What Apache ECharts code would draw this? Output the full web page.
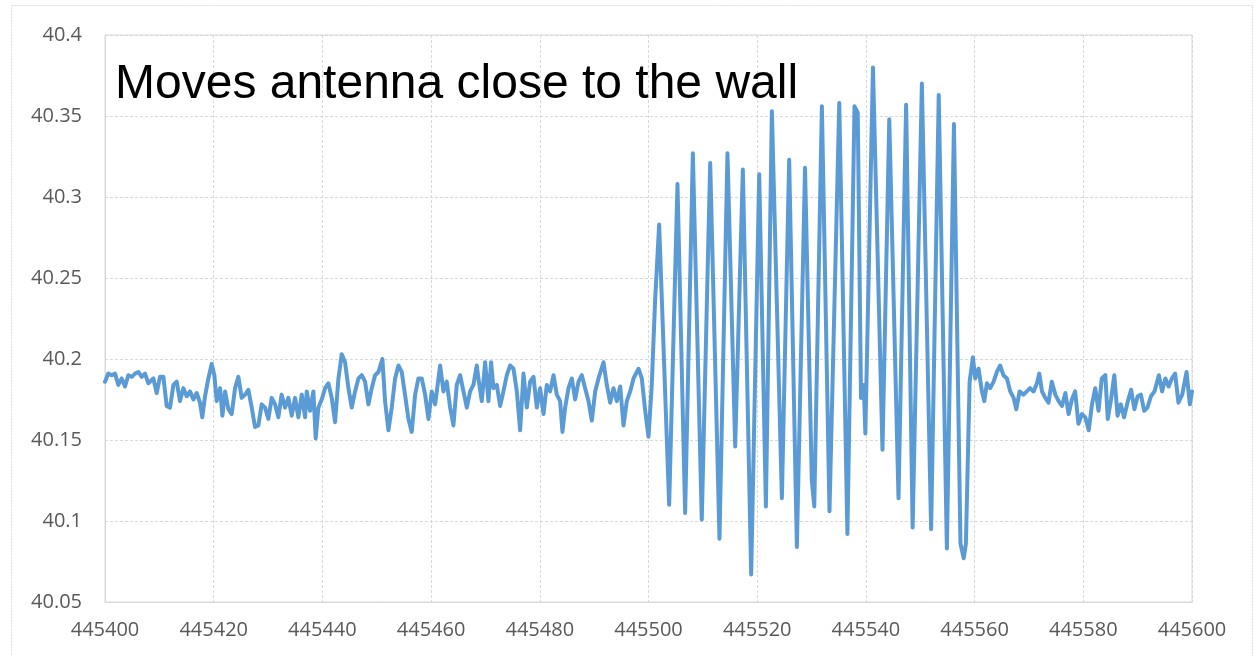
<!DOCTYPE html>
<html>
<head>
<meta charset="utf-8">
<script src="https://cdn.jsdelivr.net/npm/echarts@6/dist/echarts.min.js"></script>
<style>
html,body{margin:0;padding:0;background:#fff;}
#chart{width:1255px;height:656px;}
</style>
</head>
<body>
<div id="chart"></div>
<script>
// x values are offsets from X0
var X0 = 445400;
var xTicks = [445400,445420,445440,445460,445480,445500,445520,445540,445560,445580,445600];
var yTicks = [40.05,40.1,40.15,40.2,40.25,40.3,40.35,40.4];

// quiet part before the antenna is moved
var beforeX = [0.0,0.61,1.23,1.84,2.45,3.07,3.68,4.29,4.91,5.52,6.14,6.75,7.36,7.98,8.9,9.51,10.12,10.74,11.35,11.96,12.58,13.19,13.8,14.42,15.03,15.64,16.26,16.87,17.48,17.9,18.4,19.02,19.63,20.12,20.55,21.17,21.6,22.09,22.7,23.31,23.93,24.54,25.15,25.77,26.38,27.0,27.6,28.22,28.83,29.45,30.06,30.67,31.29,31.9,32.5,33.13,33.74,34.36,34.97,35.58,36.2,36.81,37.12,37.73,38.34,38.77,39.26,39.88,40.49,41.1,41.72,42.33,42.95,43.56,44.17,44.79,45.4,46.01,46.63,47.24,47.85,48.47,49.08,49.69,50.31,51.04,51.53,52.15,52.76,53.37,53.99,54.6,55.2,55.83,56.44,57.06,57.67,58.28,58.9,59.51,60.12,60.74,61.66,62.27,62.88,63.5,64.11,64.72,65.34,65.95,66.57,67.18,67.79,68.4,68.71,69.33,69.94,70.55,71.04,71.47,72.09,72.7,73.31,73.93,74.54,75.16,75.77,76.38,77.0,77.61,78.22,78.84,79.45,80.06,80.68,81.29,81.9,82.52,83.13,83.74,84.17,84.66,85.28,85.89,86.5,87.12,87.73,88.34,88.96,89.57,90.19,90.8,91.72,92.33,92.95,93.56,94.17,94.79,95.4,96.01,96.63,97.24,98.16,98.77,99.39,100.0,100.6];
var beforeY = [40.186,40.191,40.190,40.191,40.184,40.188,40.183,40.190,40.189,40.191,40.192,40.189,40.191,40.185,40.188,40.179,40.189,40.189,40.171,40.170,40.184,40.186,40.174,40.182,40.177,40.180,40.175,40.179,40.173,40.164,40.177,40.188,40.197,40.190,40.174,40.182,40.165,40.180,40.169,40.166,40.182,40.189,40.176,40.178,40.181,40.170,40.158,40.159,40.172,40.170,40.163,40.176,40.172,40.164,40.178,40.170,40.176,40.165,40.176,40.164,40.178,40.164,40.180,40.168,40.180,40.151,40.170,40.175,40.182,40.185,40.176,40.161,40.188,40.203,40.198,40.182,40.170,40.180,40.188,40.190,40.186,40.172,40.182,40.190,40.192,40.200,40.174,40.156,40.170,40.188,40.196,40.192,40.178,40.163,40.155,40.178,40.188,40.188,40.178,40.163,40.180,40.172,40.196,40.180,40.186,40.170,40.159,40.184,40.190,40.180,40.170,40.180,40.184,40.196,40.188,40.174,40.198,40.174,40.198,40.182,40.184,40.171,40.180,40.190,40.196,40.194,40.180,40.156,40.191,40.170,40.186,40.189,40.170,40.182,40.166,40.184,40.180,40.190,40.178,40.174,40.155,40.170,40.182,40.188,40.175,40.186,40.190,40.182,40.174,40.162,40.180,40.188,40.198,40.184,40.173,40.182,40.174,40.183,40.159,40.174,40.180,40.188,40.194,40.188,40.168,40.152,40.184];

// oscillation while the antenna is near the wall
var waveX = [101.2,101.96,103.8,105.33,106.74,108.16,109.8,111.35,113.06,114.53,115.95,117.36,118.89,120.37,121.6,122.7,124.54,125.88,127.3,128.8,130.05,130.5,131.9,133.3,135.1,136.6,137.9,138.5,139.1,139.6,139.9,141.3,143.05,144.3,146.0,147.4,148.6,150.3,152.0,153.4,154.9,156.2,157.4,158.0,158.4,159.08];
var waveY = [40.235,40.283,40.110,40.308,40.105,40.327,40.101,40.321,40.089,40.327,40.146,40.317,40.067,40.314,40.109,40.353,40.114,40.323,40.084,40.318,40.125,40.109,40.356,40.106,40.358,40.092,40.356,40.352,40.176,40.184,40.154,40.380,40.144,40.348,40.114,40.357,40.096,40.370,40.095,40.363,40.083,40.345,40.086,40.077,40.086,40.186];

// quiet part after
var afterX = [159.69,160.12,160.73,161.35,161.78,162.27,162.88,163.5,164.1,164.7,165.3,165.95,166.56,167.18,167.67,168.28,169.0,169.6,170.2,170.86,171.47,171.9,172.4,173.0,173.6,174.2,174.85,175.46,176.07,176.7,177.3,177.9,178.5,179.1,179.75,180.37,181.0,181.6,182.2,182.8,183.4,184.05,184.5,185.1,185.7,186.3,186.9,187.5,188.2,188.8,189.4,190.0,190.6,191.2,191.8,192.45,193.1,193.9,194.5,195.1,195.7,196.3,196.9,197.5,198.2,199.0,199.6,200.0];
var afterY = [40.201,40.188,40.194,40.180,40.174,40.185,40.182,40.186,40.192,40.196,40.190,40.188,40.180,40.176,40.169,40.180,40.178,40.180,40.182,40.180,40.185,40.191,40.180,40.176,40.173,40.186,40.178,40.174,40.171,40.179,40.166,40.175,40.180,40.160,40.166,40.164,40.156,40.172,40.182,40.168,40.188,40.190,40.163,40.175,40.190,40.165,40.172,40.164,40.174,40.181,40.169,40.177,40.178,40.168,40.170,40.177,40.180,40.190,40.180,40.188,40.183,40.188,40.191,40.173,40.178,40.192,40.172,40.180];

var data = [];
function addSeg(xs, ys){ for (var i=0;i<xs.length;i++) data.push([X0+xs[i], ys[i]]); }
addSeg(beforeX, beforeY);
addSeg(waveX, waveY);
addSeg(afterX, afterY);

var chart = echarts.init(document.getElementById('chart'), null, {renderer:'canvas'});
var gridColor = '#d9d9d9';
var labelFont = {color:'#595959', fontFamily:'Open Sans', fontSize:20};
chart.setOption({
  animation:false,
  backgroundColor:'#ffffff',
  grid:{left:105, right:63, top:35, bottom:54, show:true, borderColor:gridColor, borderWidth:1},
  xAxis:{
    type:'value', min:xTicks[0], max:xTicks[xTicks.length-1], interval:20,
    axisLine:{show:true, lineStyle:{color:gridColor, width:1}},
    axisTick:{show:false},
    splitLine:{show:true, lineStyle:{color:gridColor, width:1, type:[3,2]}},
    axisLabel:Object.assign({margin:18, showMinLabel:true, showMaxLabel:true,
      formatter:function(v){return String(Math.round(v));}}, labelFont)
  },
  yAxis:{
    type:'value', min:yTicks[0], max:yTicks[yTicks.length-1], interval:0.05,
    axisLine:{show:true, lineStyle:{color:gridColor, width:1}},
    axisTick:{show:false},
    splitLine:{show:true, lineStyle:{color:gridColor, width:1, type:[3,2]}},
    axisLabel:Object.assign({margin:23, formatter:function(v){return String(parseFloat(v.toFixed(2)));}}, labelFont)
  },
  graphic:[
    {type:'rect', silent:true, z:-1, shape:{x:11.5, y:5.5, width:1241, height:660},
     style:{fill:'none', stroke:'#dcdcdc', lineWidth:1, lineDash:[2,1]}},
    {type:'text', silent:true, z:100, style:{x:115, y:85, text:'Moves antenna close to the wall',
     font:'48px "Liberation Sans", Arial, sans-serif', fill:'#000000', verticalAlign:'middle', align:'left'}}
  ],
  series:[{
    type:'line', data:data, showSymbol:false, symbol:'none',
    lineStyle:{color:'#5b9bd5', width:4, join:'round', cap:'round'},
    itemStyle:{color:'#5b9bd5'}
  }]
});
</script>
</body>
</html>
